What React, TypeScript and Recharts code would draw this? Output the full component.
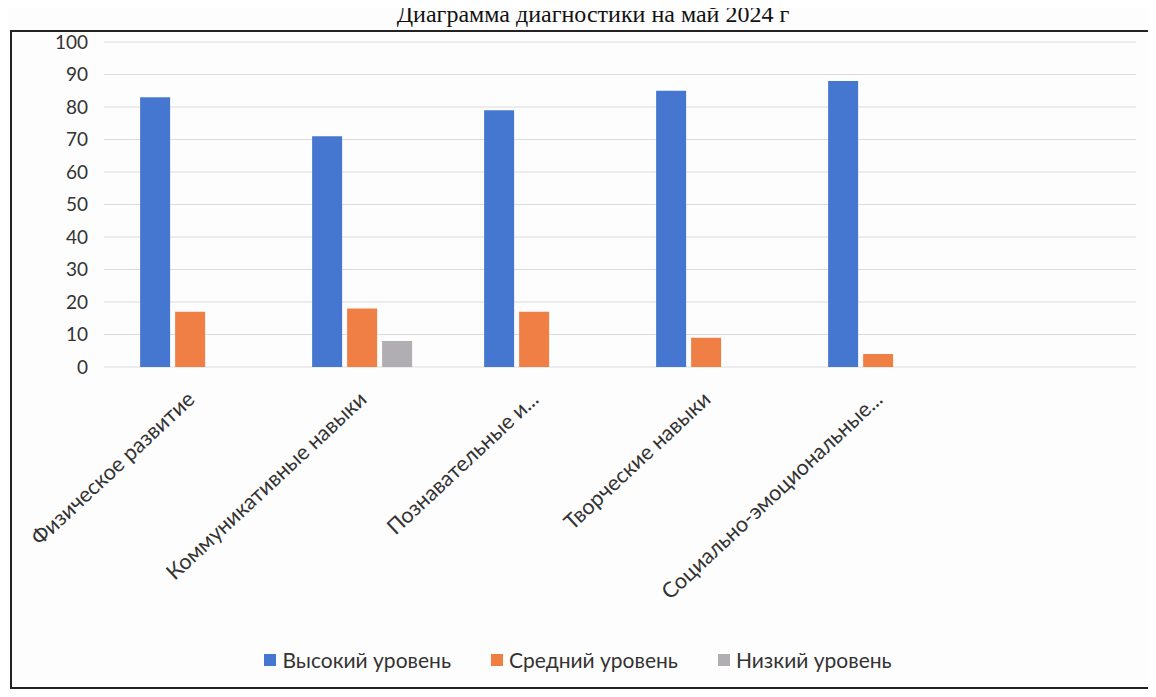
import { BarChart, Bar, XAxis, YAxis, CartesianGrid, Legend } from "recharts";

const categories = [
  "Физическое развитие",
  "Коммуникативные навыки",
  "Познавательные и...",
  "Творческие навыки",
  "Социально-эмоциональные...",
  "",
];
const high = [83, 71, 79, 85, 88, null];
const medium = [17, 18, 17, 9, 4, null];
const low = [null, 8, null, null, null, null];
const yTicks = [0, 10, 20, 30, 40, 50, 60, 70, 80, 90, 100];

const series = [
  { key: "high", name: "Высокий уровень", color: "#4677d0" },
  { key: "medium", name: "Средний уровень", color: "#f07f45" },
  { key: "low", name: "Низкий уровень", color: "#b0aeb3" },
];

const data = categories.map((name, i) => ({
  name,
  high: high[i],
  medium: medium[i],
  low: low[i],
}));

const FONT = "Lato, 'Open Sans', sans-serif";

const AngledTick = (props: any) => {
  const { x, y, payload } = props;
  return (
    <g transform={`translate(${x + 6},${y + 26})`}>
      <text
        textAnchor="end"
        transform="rotate(-43)"
        fontSize={21.5}
        fontFamily={FONT}
        fill="#333"
      >
        {payload.value}
      </text>
    </g>
  );
};

const LegendContent = () => (
  <div
    style={{
      display: "flex",
      justifyContent: "center",
      gap: 40,
      fontFamily: FONT,
      fontSize: 21,
      color: "#333",
      paddingLeft: 20,
    }}
  >
    {series.map((s) => (
      <div key={s.key} style={{ display: "flex", alignItems: "center", gap: 6 }}>
        <span style={{ width: 12, height: 12, background: s.color, display: "inline-block" }} />
        <span>{s.name}</span>
      </div>
    ))}
  </div>
);

export default function App() {
  return (
    <div
      style={{
        position: "relative",
        width: 1156,
        height: 697,
        margin: -8,
        background: "#fdfdfd",
        overflow: "hidden",
      }}
    >
      <div
        style={{
          position: "absolute",
          top: 1,
          left: 0,
          width: 1156,
          textAlign: "center",
          fontFamily: "'Liberation Serif', serif",
          fontSize: 24,
          lineHeight: "27px",
          color: "#111",
          paddingLeft: 30,
          boxSizing: "border-box",
        }}
      >
        Диаграмма диагностики на май 2024 г
      </div>
      <div
        style={{
          position: "absolute",
          left: 10,
          top: 30,
          width: 1150,
          height: 655,
          borderLeft: "2px solid #222",
          borderTop: "2px solid #222",
          borderBottom: "3px solid #222",
        }}
      />
      <div style={{ position: "absolute", left: 0, top: 0 }}>
        <BarChart
          width={1156}
          height={697}
          data={data}
          margin={{ top: 42, right: 20, left: 0, bottom: 10 }}
          barCategoryGap="21%"
          barGap={5}
        >
          <CartesianGrid vertical={false} stroke="#dcdcdc" />
          <XAxis
            dataKey="name"
            tick={<AngledTick />}
            tickLine={false}
            axisLine={false}
            interval={0}
            height={280}
          />
          <YAxis
            domain={[0, 100]}
            ticks={yTicks}
            width={104}
            tickLine={false}
            axisLine={false}
            tickMargin={10}
            tick={{ fontSize: 19, fontFamily: FONT, fill: "#333" }}
          />
          <Legend verticalAlign="bottom" height={40} content={<LegendContent />} />
          {series.map((s) => (
            <Bar
              key={s.key}
              dataKey={s.key}
              name={s.name}
              fill={s.color}
              isAnimationActive={false}
            />
          ))}
        </BarChart>
      </div>
    </div>
  );
}
